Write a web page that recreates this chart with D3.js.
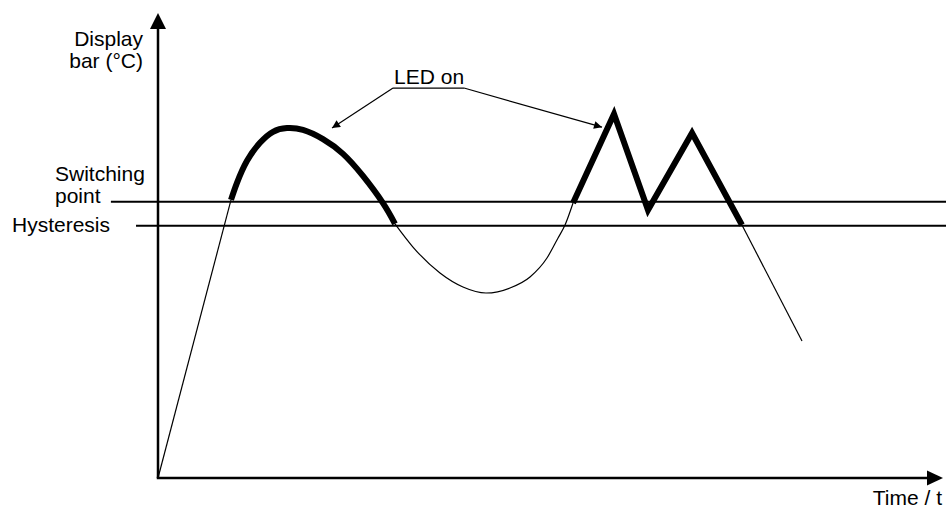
<!DOCTYPE html>
<html>
<head>
<meta charset="utf-8">
<script src="https://cdn.jsdelivr.net/npm/d3@7"></script>
<style>
  body { margin: 0; background: #fff; }
  svg text { font-family: "Liberation Sans", Arial, sans-serif; font-size: 21px; fill: #000; }
</style>
</head>
<body>
<div id="chart"></div>
<script>
// data, in time units (x) and display units (y)
const riseTime = [0, 9.3]
const riseTemp = [0, 60.4]
const humpTime = [9.3, 10.06, 11.34, 12.99, 14.65, 16.43, 18.47, 21.02, 23.57, 26.11, 28.66, 30.19]
const humpTemp = [60.4, 64.1, 68.9, 72.8, 75.2, 76.0, 75.6, 73.6, 70.4, 65.6, 59.7, 55.2]
const dipTime = [30.19, 32.48, 35.92, 38.85, 41.78, 44.84, 47.39, 49.55, 50.96, 51.85, 52.87]
const dipTemp = [55.2, 50.17, 44.53, 41.49, 40.18, 41.27, 43.66, 47.78, 52.13, 54.95, 59.73]
const zigTime = [52.87, 58.09, 62.42, 68.03, 74.39]
const zigTemp = [59.73, 79.06, 58.21, 74.93, 54.95]
const fallTime = [74.39, 82.04]
const fallTemp = [54.95, 29.76]
const switchPoint = 60
const hysteresis = 54.8
// "LED on" annotation: label spot and the two arrow targets
const ledLabel = [29.94, 38.98, 84.7]
const ledTargets = [[22.17, 76.0], [56.56, 76.2]]

const width = 946, height = 506

const svg = d3.select("#chart").append("svg")
    .attr("width", width)
    .attr("height", height)

const x = d3.scaleLinear().domain([0, 100]).range([158, 943])
const y = d3.scaleLinear().domain([0, 101]).range([478, 13])

const defs = svg.append("defs")
defs.append("marker")
    .attr("id", "head")
    .attr("viewBox", "0 0 10 10")
    .attr("refX", 10).attr("refY", 5)
    .attr("markerWidth", 11).attr("markerHeight", 8)
    .attr("markerUnits", "userSpaceOnUse")
    .attr("orient", "auto")
    .append("path")
    .attr("d", "M0,0 L10,5 L0,10 Z")
    .attr("fill", "#000")

// reference lines
svg.append("line")
    .attr("x1", x(-6)).attr("x2", width)
    .attr("y1", y(switchPoint)).attr("y2", y(switchPoint))
    .attr("stroke", "#000").attr("stroke-width", 2)
svg.append("line")
    .attr("x1", x(-2.8)).attr("x2", width)
    .attr("y1", y(hysteresis)).attr("y2", y(hysteresis))
    .attr("stroke", "#000").attr("stroke-width", 2)

// axes with arrow heads
svg.append("line")
    .attr("x1", x(0)).attr("x2", x(0))
    .attr("y1", y(0)).attr("y2", y(101) + 12)
    .attr("stroke", "#000").attr("stroke-width", 2.5)
svg.append("path")
    .attr("d", `M${x(0)},${y(101)} L${x(0) - 8},${y(101) + 16} L${x(0) + 8},${y(101) + 16} Z`)
    .attr("fill", "#000")
svg.append("line")
    .attr("x1", x(0) - 1.25).attr("x2", x(100) - 12)
    .attr("y1", y(0)).attr("y2", y(0))
    .attr("stroke", "#000").attr("stroke-width", 2.5)
svg.append("path")
    .attr("d", `M${x(100)},${y(0)} L${x(100) - 16},${y(0) - 7.5} L${x(100) - 16},${y(0) + 7.5} Z`)
    .attr("fill", "#000")

const pts = (ts, vs) => ts.map((t, i) => [t, vs[i]])
const straight = d3.line().x(d => x(d[0])).y(d => y(d[1]))
const smooth = d3.line().x(d => x(d[0])).y(d => y(d[1])).curve(d3.curveNatural)
const mono = d3.line().x(d => x(d[0])).y(d => y(d[1])).curve(d3.curveMonotoneX)

// thin parts (LED off)
svg.append("path").attr("d", straight(pts(riseTime, riseTemp)))
    .attr("fill", "none").attr("stroke", "#000").attr("stroke-width", 1.2)
svg.append("path").attr("d", mono(pts(dipTime, dipTemp)))
    .attr("fill", "none").attr("stroke", "#000").attr("stroke-width", 1.2)
svg.append("path").attr("d", straight(pts(fallTime, fallTemp)))
    .attr("fill", "none").attr("stroke", "#000").attr("stroke-width", 1.2)

// thick parts (LED on)
svg.append("path").attr("d", smooth(pts(humpTime, humpTemp)))
    .attr("fill", "none").attr("stroke", "#000").attr("stroke-width", 6)
svg.append("path").attr("d", straight(pts(zigTime, zigTemp)))
    .attr("fill", "none").attr("stroke", "#000").attr("stroke-width", 6)
    .attr("stroke-linejoin", "miter")

// LED on label + arrows
svg.append("text")
    .attr("x", x(ledLabel[0]) + 1).attr("y", y(ledLabel[2]) - 4)
    .text("LED on")
svg.append("line")
    .attr("x1", x(ledLabel[0])).attr("x2", x(ledLabel[1]))
    .attr("y1", y(ledLabel[2])).attr("y2", y(ledLabel[2]))
    .attr("stroke", "#000").attr("stroke-width", 1.2)
svg.append("line")
    .attr("x1", x(ledLabel[0])).attr("y1", y(ledLabel[2]))
    .attr("x2", x(ledTargets[0][0])).attr("y2", y(ledTargets[0][1]))
    .attr("stroke", "#000").attr("stroke-width", 1.2)
    .attr("marker-end", "url(#head)")
svg.append("line")
    .attr("x1", x(ledLabel[1])).attr("y1", y(ledLabel[2]))
    .attr("x2", x(ledTargets[1][0])).attr("y2", y(ledTargets[1][1]))
    .attr("stroke", "#000").attr("stroke-width", 1.2)
    .attr("marker-end", "url(#head)")

// axis and level labels
svg.append("text").attr("x", 143).attr("y", 46).attr("text-anchor", "end").text("Display")
svg.append("text").attr("x", 143).attr("y", 68).attr("text-anchor", "end").text("bar (°C)")
svg.append("text").attr("x", 55).attr("y", 181).text("Switching")
svg.append("text").attr("x", 55).attr("y", 203).text("point")
svg.append("text").attr("x", 12).attr("y", 232).text("Hysteresis")
svg.append("text").attr("x", 942).attr("y", 505).attr("text-anchor", "end").text("Time / t")
</script>
</body>
</html>
